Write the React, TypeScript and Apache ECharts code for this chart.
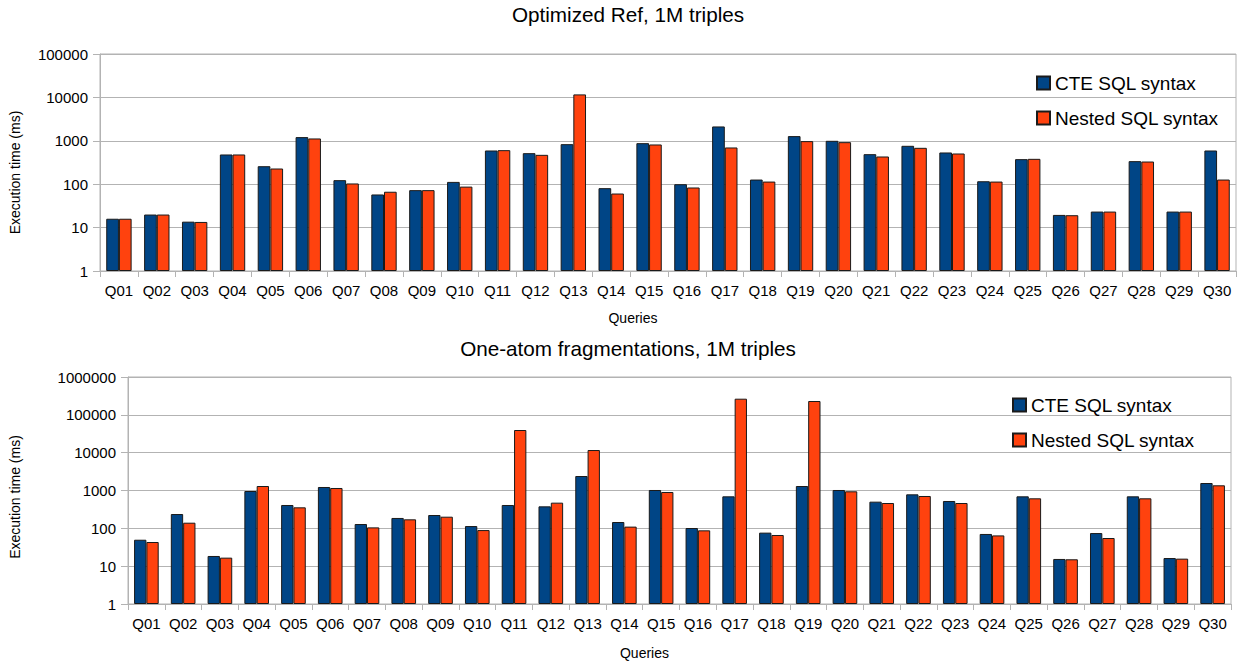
import React, { useEffect, useRef } from "react";
import * as echarts from "echarts";

const categories = [
  "Q01", "Q02", "Q03", "Q04", "Q05", "Q06", "Q07", "Q08", "Q09", "Q10",
  "Q11", "Q12", "Q13", "Q14", "Q15", "Q16", "Q17", "Q18", "Q19", "Q20",
  "Q21", "Q22", "Q23", "Q24", "Q25", "Q26", "Q27", "Q28", "Q29", "Q30",
];

const seriesNames = ["CTE SQL syntax", "Nested SQL syntax"];

// Top chart: Optimized Ref, 1M triples
const optCte = [
  16, 20, 13.7, 484, 260, 1216, 124, 58, 73, 113,
  598, 519, 837, 81, 883, 100, 2142, 128, 1282, 1000,
  492, 767, 538, 117, 378, 19.6, 23.4, 340, 23.4, 598,
];
const optNested = [
  16, 20, 13.5, 484, 230, 1132, 104, 67, 73, 88,
  609, 475, 11730, 61, 823, 84, 702, 115, 983, 931,
  435, 689, 510, 115, 384, 19.3, 23.4, 333, 23.4, 128,
];

// Bottom chart: One-atom fragmentations, 1M triples
const fragCte = [
  50, 239, 18.6, 970, 414, 1238, 130, 188, 225, 115,
  414, 381, 2416, 147, 1031, 102, 701, 77, 1315, 1031,
  507, 792, 528, 71, 701, 15.5, 75, 701, 16.4, 1578,
];
const fragNested = [
  43.5, 141, 16.8, 1315, 359, 1165, 106, 173, 203, 90,
  39700, 477, 11750, 111, 913, 88.5, 267000, 66.7, 232000, 951,
  467, 716, 467, 65, 621, 15.2, 55.5, 621, 15.8, 1372,
];

const titles = ["Optimized Ref, 1M triples", "One-atom fragmentations, 1M triples"];
const yMax = [100000, 1000000];
const yName = "Execution time (ms)";
const xName = "Queries";

const BLUE = "#004586";
const ORANGE = "#ff420e";
const GRID = "#b3b3b3";
const FONT = "Liberation Sans";

export default function App() {
  const ref = useRef<HTMLDivElement>(null);

  useEffect(() => {
    document.body.style.margin = "0";
    if (!ref.current) return;
    const chart = echarts.init(ref.current, undefined, { renderer: "svg" });

    const makeX = (gridIndex: number) => ({
      type: "category",
      gridIndex,
      data: categories,
      name: xName,
      nameLocation: "middle",
      nameGap: gridIndex === 0 ? 40 : 42,
      nameTextStyle: { fontSize: 14, color: "#000", fontFamily: FONT, padding: [0, 70, 0, 0] },
      axisLine: { show: true, lineStyle: { color: GRID, width: 1 } },
      axisTick: { show: true, alignWithLabel: false, length: 6, lineStyle: { color: GRID } },
      axisLabel: { interval: 0, fontSize: 15, color: "#000", fontFamily: FONT, margin: 12 },
      splitLine: { show: false },
    });

    const makeY = (gridIndex: number) => ({
      type: "log",
      logBase: 10,
      gridIndex,
      min: 1,
      max: yMax[gridIndex],
      name: yName,
      nameLocation: "middle",
      nameRotate: 90,
      nameGap: gridIndex === 0 ? 78 : 106,
      nameTextStyle: {
        fontSize: 14,
        color: "#000",
        fontFamily: FONT,
        padding: gridIndex === 0 ? [0, 20, 0, 0] : [0, 13, 0, 0],
      },
      axisLine: { show: true, lineStyle: { color: GRID, width: 1 } },
      axisTick: { show: true, length: 7, lineStyle: { color: GRID } },
      minorTick: { show: false },
      axisLabel: {
        fontSize: 15,
        color: "#000",
        fontFamily: FONT,
        margin: 12,
        formatter: (v: number) => String(Math.round(v)),
      },
      splitLine: { show: true, lineStyle: { color: GRID, width: 1 } },
    });

    const barStyle = (color: string) => ({
      color,
      borderColor: "#1a1a1a",
      borderWidth: 1,
    });

    const makeBars = (idx: number, cte: number[], nested: number[]) => [
      {
        type: "bar",
        name: seriesNames[0],
        xAxisIndex: idx,
        yAxisIndex: idx,
        data: cte,
        barGap: "0%",
        barCategoryGap: "33%",
        itemStyle: barStyle(BLUE),
      },
      {
        type: "bar",
        name: seriesNames[1],
        xAxisIndex: idx,
        yAxisIndex: idx,
        data: nested,
        barGap: "0%",
        barCategoryGap: "33%",
        itemStyle: barStyle(ORANGE),
      },
    ];

    const legendBase = {
      orient: "vertical",
      icon: "rect",
      itemWidth: 13,
      itemHeight: 13,
      itemGap: 15,
      padding: 0,
      selectedMode: false,
      data: seriesNames,
      textStyle: { fontSize: 19, lineHeight: 20, color: "#000", fontFamily: FONT },
    };

    const titleStyle = { fontSize: 20.7, fontWeight: "normal", color: "#000", fontFamily: FONT };

    chart.setOption({
      animation: false,
      backgroundColor: "#ffffff",
      textStyle: { fontFamily: FONT },
      title: [
        { text: titles[0], left: 628, top: 4, padding: 0, textAlign: "center", textStyle: titleStyle },
        { text: titles[1], left: 628, top: 338, padding: 0, textAlign: "center", textStyle: titleStyle },
      ],
      legend: [
        { ...legendBase, left: 1036, top: 73 },
        { ...legendBase, left: 1012, top: 395 },
      ],
      grid: [
        { left: 97, right: 8, top: 54, height: 217, show: true, borderColor: GRID, borderWidth: 1, backgroundColor: "transparent" },
        { left: 125, right: 13, top: 377, height: 227, show: true, borderColor: GRID, borderWidth: 1, backgroundColor: "transparent" },
      ],
      xAxis: [makeX(0), makeX(1)],
      yAxis: [makeY(0), makeY(1)],
      series: [...makeBars(0, optCte, optNested), ...makeBars(1, fragCte, fragNested)],
    });

    return () => {
      chart.dispose();
    };
  }, []);

  return <div ref={ref} style={{ width: 1244, height: 666 }} />;
}
